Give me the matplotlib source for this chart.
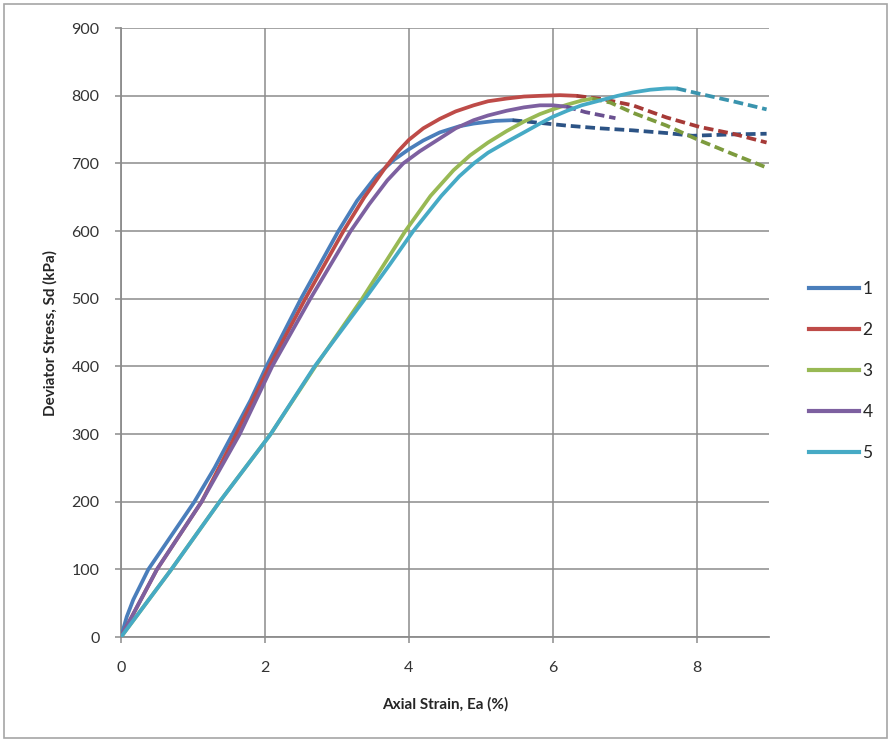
import matplotlib
matplotlib.use("Agg")
import matplotlib.pyplot as plt
from matplotlib.lines import Line2D
from matplotlib.patches import Rectangle

plt.rcParams['font.family'] = ['Lato', 'DejaVu Sans']

# strain (%) / deviator stress (kPa), solid = measured, dashed = post-peak
s1_x = [0, 0.08, 0.17, 0.38, 0.7, 1.02, 1.3, 1.55, 1.8, 2.02, 2.26, 2.5, 2.76, 3.02, 3.28,
        3.55, 3.8, 4.0, 4.2, 4.43, 4.7, 4.9, 5.2, 5.44]
s1_y = [0, 30, 55, 100, 150, 200, 250, 300, 350, 400, 450, 500, 550, 600, 645,
        682, 706, 721, 734, 746, 755, 759, 763, 764]
s1_dx = [5.44, 5.73, 6.19, 6.65, 7.11, 7.58, 7.94, 8.5, 8.97]
s1_dy = [764, 761, 756, 752, 749, 745, 741, 743, 744]

s2_x = [0, 0.5, 1.12, 1.6, 2.06, 2.56, 3.09, 3.38, 3.68, 3.85, 4.0, 4.2, 4.43, 4.65,
        4.9, 5.1, 5.36, 5.6, 5.82, 6.1, 6.33]
s2_y = [0, 100, 200, 300, 400, 500, 600, 650, 695, 718, 735, 752, 766, 777,
        786, 792, 796, 799, 800, 801, 800]
s2_dx = [6.33, 6.7, 7.11, 7.58, 8.04, 8.5, 8.97]
s2_dy = [800, 795, 786, 768, 754, 744, 731]

s3_x = [0, 0.7, 1.37, 2.08, 2.7, 3.35, 3.65, 3.95, 4.3, 4.62, 4.85, 5.1, 5.36, 5.6,
        5.82, 6.0, 6.2, 6.4, 6.55]
s3_y = [0, 100, 200, 300, 400, 500, 550, 600, 652, 690, 712, 731, 748, 762,
        773, 780, 787, 793, 796]
s3_dx = [6.55, 6.8, 7.11, 7.58, 8.04, 8.5, 8.97]
s3_dy = [796, 790, 775, 756, 734, 714, 694]

s4_x = [0, 0.5, 1.12, 1.65, 2.1, 2.63, 3.19, 3.45, 3.7, 3.92, 4.15, 4.43, 4.65, 4.9,
        5.1, 5.36, 5.6, 5.82, 6.0, 6.19]
s4_y = [0, 100, 200, 300, 400, 500, 600, 640, 675, 700, 718, 737, 752, 764,
        771, 778, 783, 786, 786, 784]
s4_dx = [6.19, 6.45, 6.87]
s4_dy = [784, 776, 767]

s5_x = [0, 0.7, 1.37, 2.08, 2.69, 3.39, 3.73, 4.06, 4.45, 4.7, 4.9, 5.1, 5.36, 5.6,
        5.82, 6.0, 6.2, 6.4, 6.65, 6.9, 7.11, 7.35, 7.58, 7.72]
s5_y = [0, 100, 200, 300, 400, 500, 550, 600, 652, 681, 700, 716, 732, 746,
        759, 769, 778, 786, 793, 800, 805, 809, 811, 811]
s5_dx = [7.72, 8.04, 8.5, 8.97]
s5_dy = [811, 803, 792, 780]

labels = ['1', '2', '3', '4', '5']
colors = ['#4A7EBB', '#BE4B48', '#98B954', '#7D60A0', '#46AAC5']
dash_colors = ['#2C5385', '#A63A37', '#7D9B3E', '#6A5090', '#3A94AE']

series = [
    (s1_x, s1_y, s1_dx, s1_dy),
    (s2_x, s2_y, s2_dx, s2_dy),
    (s3_x, s3_y, s3_dx, s3_dy),
    (s4_x, s4_y, s4_dx, s4_dy),
    (s5_x, s5_y, s5_dx, s5_dy),
]

fig = plt.figure(figsize=(8.91, 7.42), dpi=100)
ax = fig.add_axes([0.1358, 0.1415, 0.727, 0.8205])

for (x, y, dx, dy), c, dc in zip(series, colors, dash_colors):
    ax.plot(x, y, color=c, lw=2.7, solid_joinstyle='round', solid_capstyle='round', zorder=3)
    ax.plot(dx, dy, color=dc, lw=2.7, ls=(0, (2.6, 1.3)), dash_capstyle='butt',
            dash_joinstyle='round', zorder=3)

ax.set_xlim(0, 9)
ax.set_ylim(0, 900)
ax.set_xticks([0, 2, 4, 6, 8])
ax.set_yticks(range(0, 901, 100))
ax.grid(True, color='#8C8C8C', lw=1.1)
ax.set_axisbelow(True)

for side in ['top', 'right']:
    ax.spines[side].set_visible(False)
for side in ['left', 'bottom']:
    ax.spines[side].set_color('#8C8C8C')
    ax.spines[side].set_linewidth(1.3)

ax.tick_params(axis='both', colors='#8C8C8C', labelcolor='#333333', labelsize=11.5, length=4.5, width=1.1)
ax.tick_params(axis='y', pad=11)
ax.tick_params(axis='x', pad=13)

ax.set_xlabel('Axial Strain, Ea (%)', fontsize=11, fontweight='bold', color='#262626', labelpad=16)
ax.set_ylabel('Deviator Stress, Sd (kPa)', fontsize=11, fontweight='bold', color='#262626', labelpad=10)

handles = [Line2D([], [], color=c, lw=3) for c in colors]
fig.legend(handles, labels, loc='center left', bbox_to_anchor=(0.89, 0.5), frameon=False,
           fontsize=12.5, handlelength=2.9, handletextpad=0.2, labelspacing=1.45,
           labelcolor='#262626')

fig.patches.append(Rectangle((0.004, 0.005), 0.991, 0.99, transform=fig.transFigure,
                             fill=False, edgecolor='#A6A6A6', lw=1.2))

fig.savefig('out.png', dpi=100, facecolor='white')
